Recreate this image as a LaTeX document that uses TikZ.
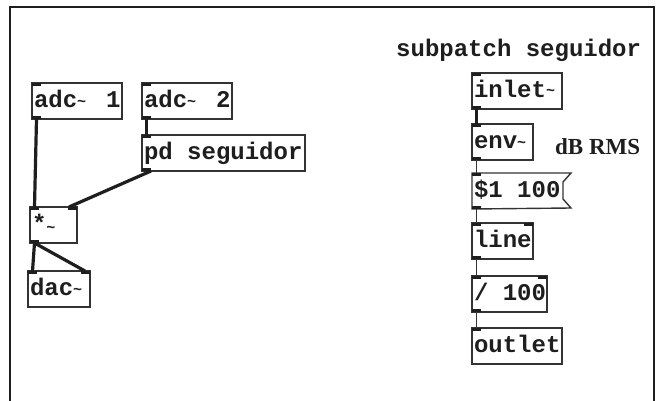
\documentclass[tikz,border=0pt]{standalone}
\usepackage{fontspec}
\newfontfamily\pdfont{Liberation Mono}
\newfontfamily\cmtfont{Liberation Serif}
\definecolor{ink}{HTML}{1E1E1E}
\definecolor{edge}{HTML}{333333}
% one character cell of the monospaced box font
\newcommand\pdtilde{\makebox[0.6em][l]{\raisebox{1.5pt}{\fontsize{15}{15}\selectfont\char`\~}}}
\newcommand\pdsp{\hspace*{0.6em}}
\tikzset{
  obj/.style={draw=edge, line width=1.4pt, anchor=north west, inner xsep=2pt,
    inner ysep=0pt, outer sep=0pt, minimum height=36pt, text width=#1,
    align=left, text height=16pt, text depth=3pt, text=ink,
    font=\pdfont\bfseries\fontsize{24}{24}\selectfont},
  msgtext/.style={obj=#1, draw=none},
  sig/.style={draw=ink, line width=3.2pt},
  ctl/.style={draw=edge, line width=1.5pt},
  iolet/.style={fill=ink},
  frame/.style={draw=ink, line width=2.4pt},
  label/.style={anchor=west, inner sep=0pt, text=ink}
}
% inlet and outlet marks at the corners of a box
\newcommand\inL[1]{\fill[iolet] (#1.north west) rectangle ++(9,3);}
\newcommand\inR[1]{\fill[iolet] (#1.north east) rectangle ++(-9,3);}
\newcommand\outL[1]{\fill[iolet] (#1.south west) rectangle ++(9,-3);}
\begin{document}
\begin{tikzpicture}[x=1pt,y=-1pt]
\useasboundingbox (0,0) rectangle (661,401);
\fill[white] (0,0) rectangle (661,401);
% window frame, open at the bottom
\draw[frame] (10,401) -- (10,7) -- (654,7) -- (654,401);

% main patch
\node[obj=86pt] (adc1) at (32,83) {adc\pdtilde\pdsp1};
\node[obj=86pt] (adc2) at (142,83) {adc\pdtilde\pdsp2};
\node[obj=159pt] (pdseg) at (142,135) {pd\pdsp seguidor};
\node[obj=43pt] (mul) at (30,207) {*\makebox[0.6em][l]{\raisebox{-1pt}{\fontsize{15}{15}\selectfont\char`\~}}};
\node[obj=58pt] (dac) at (28,271) {dac\pdtilde};

\inL{adc1}\outL{adc1}
\inL{adc2}\outL{adc2}
\inL{pdseg}\outL{pdseg}
\inL{mul}\inR{mul}\outL{mul}
\inL{dac}\inR{dac}

\draw[sig] ([xshift=4.5pt]adc1.south west) -- ([xshift=4.5pt]mul.north west);
\draw[sig] ([xshift=4.5pt]adc2.south west) -- ([xshift=4.5pt]pdseg.north west);
\draw[sig] ([xshift=9pt]pdseg.south west) -- ([xshift=-8pt]mul.north east);
\draw[sig] ([xshift=4.5pt]mul.south west) -- ([xshift=4.5pt]dac.north west);
\draw[sig] ([xshift=4.5pt]mul.south west) -- ([xshift=-5pt]dac.north east);

% subpatch
\node[label, font=\pdfont\bfseries\fontsize{24}{24}\selectfont] (title) at (396,50) {subpatch\pdsp seguidor};
\node[obj=86pt] (inlet) at (472,73) {inlet\pdtilde};
\node[obj=57pt] (env) at (472,124) {env\pdtilde};
\node[label, font=\cmtfont\bfseries\fontsize{23}{23}\selectfont] (db) at (555,147) {dB RMS};
\node[msgtext=87pt] (msg) at (472,173) {\$1\pdsp100};
\draw[draw=edge, line width=1.4pt]
  (msg.north west) -- ++(99,0) -- ++(-8,9) -- ++(0,17) -- ++(8,9) -- (msg.south west) -- cycle;
\node[obj=57pt] (line) at (472,223) {line};
\node[obj=71pt] (div) at (472,276) {/\pdsp100};
\node[obj=86pt] (outlet) at (472,328) {outlet};

\inL{inlet}\outL{inlet}
\inL{env}\outL{env}
\inL{msg}\outL{msg}
\inL{line}\inR{line}\outL{line}
\inL{div}\inR{div}\outL{div}
\inL{outlet}

\draw[sig] ([xshift=4.5pt]inlet.south west) -- ([xshift=4.5pt]env.north west);
\draw[ctl] ([xshift=4.5pt]env.south west) -- ([xshift=4.5pt]msg.north west);
\draw[ctl] ([xshift=4.5pt]msg.south west) -- ([xshift=4.5pt]line.north west);
\draw[ctl] ([xshift=4.5pt]line.south west) -- ([xshift=4.5pt]div.north west);
\draw[ctl] ([xshift=4.5pt]div.south west) -- ([xshift=4.5pt]outlet.north west);
\end{tikzpicture}
\end{document}
